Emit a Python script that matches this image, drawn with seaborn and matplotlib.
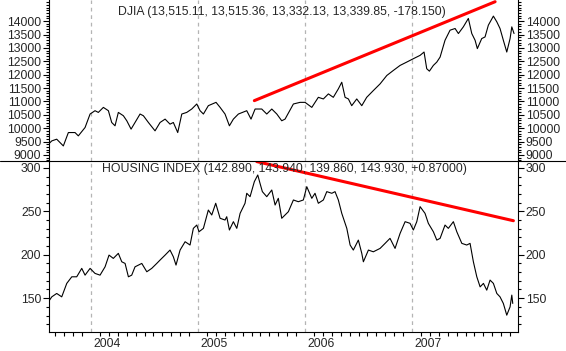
import numpy as np
import pandas as pd
import matplotlib
matplotlib.use('Agg')
import matplotlib.pyplot as plt
import matplotlib.transforms as mtransforms
from matplotlib.lines import Line2D
from matplotlib.ticker import MultipleLocator, FixedLocator
import seaborn as sns

# Dates as decimal years
djia_t = [2003.601, 2003.633, 2003.679, 2003.741, 2003.788, 2003.850, 2003.881, 2003.944,
          2003.991, 2004.037, 2004.068, 2004.115, 2004.162, 2004.193, 2004.224, 2004.255,
          2004.302, 2004.334, 2004.374, 2004.411, 2004.458, 2004.489, 2004.536, 2004.598,
          2004.645, 2004.692, 2004.738, 2004.769, 2004.810, 2004.848, 2004.894, 2004.941,
          2004.988, 2005.019, 2005.050, 2005.096, 2005.168, 2005.206, 2005.252, 2005.293,
          2005.330, 2005.377, 2005.455, 2005.495, 2005.533, 2005.595, 2005.642, 2005.689,
          2005.736, 2005.782, 2005.813, 2005.891, 2005.953, 2006.000, 2006.063, 2006.124,
          2006.171, 2006.218, 2006.264, 2006.311, 2006.343, 2006.374, 2006.405, 2006.436,
          2006.483, 2006.530, 2006.576, 2006.638, 2006.701, 2006.764, 2006.825, 2006.888,
          2006.950, 2007.012, 2007.075, 2007.112, 2007.137, 2007.162, 2007.199, 2007.231,
          2007.262, 2007.308, 2007.355, 2007.402, 2007.433, 2007.479, 2007.526, 2007.558,
          2007.589, 2007.610, 2007.651, 2007.682, 2007.713, 2007.760, 2007.792, 2007.822,
          2007.853, 2007.885, 2007.916, 2007.932, 2007.953]
djia_v = [9401, 9526, 9590, 9338, 9838, 9838, 9714, 10026,
          10530, 10654, 10590, 10778, 10654, 10214, 10090, 10590,
          10466, 10278, 9966, 10214, 10530, 10466, 10214, 9902,
          10214, 10340, 10152, 10214, 9838, 10530, 10590, 10717,
          10905, 10654, 10530, 10842, 10966, 10778, 10530, 10090,
          10340, 10530, 10654, 10340, 10717, 10717, 10530, 10717,
          10530, 10278, 10340, 10905, 10966, 10966, 10778, 11154,
          11093, 11282, 11154, 11470, 11718, 11154, 11093, 10842,
          11093, 10842, 11154, 11406, 11656, 11970, 12158, 12346,
          12470, 12597, 12722, 12846, 12222, 12132, 12346, 12470,
          12658, 13286, 13662, 13725, 13537, 13786, 14101, 13537,
          13286, 12974, 13349, 13410, 13850, 14188, 13974, 13725,
          13286, 12846, 13349, 13786, 13537]

house_t = [2003.601, 2003.633, 2003.679, 2003.726, 2003.773, 2003.820, 2003.866, 2003.913,
           2003.944, 2003.991, 2004.037, 2004.084, 2004.131, 2004.168, 2004.208, 2004.255,
           2004.287, 2004.318, 2004.349, 2004.380, 2004.411, 2004.474, 2004.521, 2004.567,
           2004.614, 2004.645, 2004.692, 2004.738, 2004.769, 2004.794, 2004.832, 2004.879,
           2004.925, 2004.956, 2004.988, 2005.009, 2005.050, 2005.096, 2005.128, 2005.165,
           2005.206, 2005.252, 2005.268, 2005.293, 2005.330, 2005.362, 2005.393, 2005.439,
           2005.455, 2005.486, 2005.526, 2005.558, 2005.579, 2005.601, 2005.642, 2005.689,
           2005.720, 2005.750, 2005.782, 2005.813, 2005.844, 2005.891, 2005.937, 2005.984,
           2006.016, 2006.063, 2006.093, 2006.124, 2006.171, 2006.203, 2006.250, 2006.280,
           2006.311, 2006.343, 2006.390, 2006.421, 2006.451, 2006.498, 2006.530, 2006.545,
           2006.592, 2006.638, 2006.701, 2006.748, 2006.794, 2006.841, 2006.888, 2006.935,
           2006.981, 2007.012, 2007.044, 2007.075, 2007.121, 2007.152, 2007.199, 2007.231,
           2007.262, 2007.308, 2007.339, 2007.386, 2007.418, 2007.465, 2007.511, 2007.542,
           2007.573, 2007.605, 2007.636, 2007.667, 2007.698, 2007.729, 2007.760, 2007.792,
           2007.822, 2007.853, 2007.885, 2007.916, 2007.932, 2007.941]
house_v = [145.7, 151.5, 155.4, 151.5, 167.0, 174.6, 174.6, 184.3,
           176.5, 184.3, 178.5, 176.5, 186.1, 199.6, 195.8, 201.6,
           191.9, 190.0, 174.6, 176.5, 186.1, 190.0, 180.4, 184.3,
           190.0, 193.9, 199.6, 205.4, 197.7, 188.1, 205.4, 215.0,
           211.2, 230.4, 234.2, 226.5, 230.4, 251.5, 245.8, 259.3,
           242.0, 240.0, 243.8, 228.5, 238.1, 230.4, 247.7, 259.3,
           270.8, 266.9, 284.2, 291.9, 282.3, 272.7, 266.9, 274.6,
           257.3, 265.0, 242.0, 245.8, 249.6, 263.1, 261.1, 263.1,
           278.4, 265.0, 270.8, 259.3, 263.1, 272.7, 270.8, 272.7,
           263.1, 247.7, 230.4, 211.2, 205.4, 216.9, 201.6, 191.9,
           205.4, 203.4, 207.3, 213.1, 218.9, 207.3, 224.6, 238.1,
           236.2, 228.5, 238.1, 255.4, 247.7, 236.2, 226.5, 216.9,
           218.9, 234.2, 230.4, 238.1, 226.5, 213.1, 211.2, 213.1,
           191.9, 174.6, 163.0, 167.0, 159.2, 170.8, 167.0, 155.4,
           151.5, 143.9, 130.4, 140.0, 153.5, 143.9]

djia_trend_t = [2005.526, 2007.776]
djia_trend_v = [11030, 14726]
house_trend_t = [2005.549, 2007.947]
house_trend_v = [307.3, 239.2]

years = [2004, 2005, 2006, 2007]
djia_title = "DJIA (13,515.11, 13,515.36, 13,332.13, 13,339.85, -178.150)"
house_title = "HOUSING INDEX (142.890, 143.940, 139.860, 143.930, +0.87000)"

sns.set_style('white')
plt.rcParams['font.family'] = ['Liberation Sans', 'DejaVu Sans']
plt.rcParams['font.size'] = 8.8

W, H = 566, 351
fig = plt.figure(figsize=(W / 100, H / 100), dpi=100)
left, right = 49, 518
ax1 = fig.add_axes([left / W, 1 - 161 / H, (right - left) / W, 161 / H])
ax2 = fig.add_axes([left / W, 1 - 332 / H, (right - left) / W, 171 / H])

df1 = pd.DataFrame({'t': djia_t, 'v': djia_v})
df2 = pd.DataFrame({'t': house_t, 'v': house_v})

sns.lineplot(data=df1, x='t', y='v', ax=ax1, color='black', lw=0.8, estimator=None, sort=False)
sns.lineplot(x=djia_trend_t, y=djia_trend_v, ax=ax1, color='#ff0000', lw=2.2, estimator=None)
sns.lineplot(data=df2, x='t', y='v', ax=ax2, color='black', lw=0.8, estimator=None, sort=False)
sns.lineplot(x=house_trend_t, y=house_trend_v, ax=ax2, color='#ff0000', lw=2.2, estimator=None)

for ax in (ax1, ax2):
    ax.set_xlim(2003.607, 2007.990)
    for yr in years:
        ax.axvline(yr, color='#b4b4b4', ls=(0, (3, 3)), lw=0.9, zorder=0)
    ax.set_xlabel('')
    ax.set_ylabel('')
    ax.spines['top'].set_visible(False)
    for s in ('left', 'right', 'bottom'):
        ax.spines[s].set_color('black')
        ax.spines[s].set_linewidth(0.8)
    ax.tick_params(axis='y', which='both', left=True, right=True, labelleft=True,
                   labelright=True, direction='out', color='black', width=0.8, pad=1.5)
    ax.tick_params(axis='y', which='major', length=4)
    ax.tick_params(axis='y', which='minor', length=2.5)

ax1.set_ylim(8775, 14790)
ax1.yaxis.set_major_locator(FixedLocator(np.arange(9000, 14001, 500)))
ax1.yaxis.set_minor_locator(MultipleLocator(100))
ax1.spines['bottom'].set_visible(False)
ax1.set_xticks([])

ax2.set_ylim(111, 308)
ax2.yaxis.set_major_locator(FixedLocator([150, 200, 250, 300]))
ax2.yaxis.set_minor_locator(MultipleLocator(10))
ax2.set_xticks(years)
ax2.set_xticklabels([str(y) for y in years])
ax2.xaxis.set_minor_locator(MultipleLocator(1 / 12))
ax2.tick_params(axis='x', which='major', direction='out', length=13, width=0.8,
                color='black', pad=-9)
ax2.tick_params(axis='x', which='minor', direction='out', length=3, width=0.8,
                color='black', bottom=True)
offset = mtransforms.ScaledTranslation(2 / 100, 0, fig.dpi_scale_trans)
for lbl in ax2.get_xticklabels():
    lbl.set_horizontalalignment('left')
    lbl.set_transform(lbl.get_transform() + offset)

ax1.text((118 - left) / (right - left), 1 - 12 / 161, djia_title,
         transform=ax1.transAxes, va='center', ha='left', fontsize=8.8)
ax2.text((102 - left) / (right - left), 1 - 8 / 171, house_title,
         transform=ax2.transAxes, va='center', ha='left', fontsize=8.8)

# separator across the whole width between the two panels
fig.add_artist(Line2D([0, 1], [1 - 161 / H, 1 - 161 / H], transform=fig.transFigure,
                      color='black', lw=0.8))

fig.savefig('out.png', dpi=100, facecolor='white')
